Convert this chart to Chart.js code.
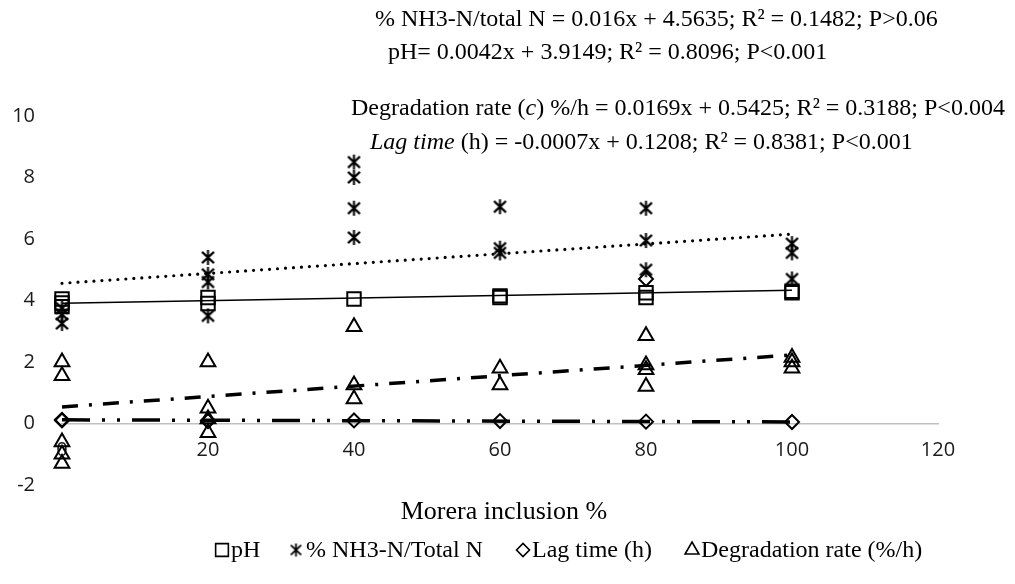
<!DOCTYPE html>
<html><head><meta charset="utf-8">
<script src="https://cdn.jsdelivr.net/npm/chart.js@4.4.1/dist/chart.umd.min.js"></script>
<style>html,body{margin:0;padding:0;background:#fff;}</style>
</head><body>
<canvas id="c" width="1015" height="584"></canvas>
<script>
// ---- data ----
const xTickValues = [0, 20, 40, 60, 80, 100, 120];
const yTickValues = [-2, 0, 2, 4, 6, 8, 10];

const phX = [0, 0, 0, 20, 20, 40, 60, 60, 80, 80, 100, 100];
const phY = [4.05, 3.92, 3.8, 4.1, 3.9, 4.05, 4.15, 4.1, 4.25, 4.1, 4.3, 4.25];

const nh3X = [0, 0, 0, 20, 20, 20, 20, 40, 40, 40, 40, 60, 60, 60, 80, 80, 80, 100, 100, 100];
const nh3Y = [3.75, 3.55, 3.25, 5.4, 4.85, 4.6, 3.5, 8.5, 8.0, 7.0, 6.05, 7.05, 5.7, 5.55, 7.0, 5.95, 5.0, 5.85, 5.55, 4.7];

const lagX = [0, 0, 20, 20, 40, 60, 80, 80, 100];
const lagY = [0.12, 0.1, 0.1, 0.08, 0.1, 0.08, 0.06, 4.7, 0.05];

const degX = [0, 0, 0, 0, 0, 20, 20, 20, 20, 40, 40, 40, 60, 60, 80, 80, 80, 80, 100, 100, 100];
const degY = [2.0, 1.55, -0.6, -1.0, -1.3, 2.0, 0.5, 0.15, -0.3, 3.15, 1.25, 0.8, 1.8, 1.25, 2.85, 1.9, 1.75, 1.2, 2.15, 2.0, 1.8];

// trend line end points (x = 0 and x = 100)
const trendX = [0, 100];
const phTrend = [3.91, 4.33];
const nh3Trend = [4.56, 6.16];
const degTrend = [0.54, 2.23];
const lagTrend = [0.12, 0.05];

const equations = [
  [{t: '% NH3-N/total N = 0.016x + 4.5635; R\u00B2 = 0.1482; P>0.06'}],
  [{t: 'pH= 0.0042x + 3.9149; R\u00B2 = 0.8096; P<0.001'}],
  [{t: 'Degradation rate ('}, {t: 'c', i: true}, {t: ') %/h = 0.0169x + 0.5425; R\u00B2 = 0.3188; P<0.004'}],
  [{t: 'Lag time', i: true}, {t: ' (h) = -0.0007x + 0.1208; R\u00B2 = 0.8381; P<0.001'}]
];
const legendLabels = ['pH', '% NH3-N/Total N', 'Lag time (h)', 'Degradation rate (%/h)'];
const xTitle = 'Morera inclusion %';

// ---- build ----
const pts = (xs, ys) => xs.map((x, i) => ({x: x, y: ys[i]}));

function makeAsterisk(size, lw) {
  const c = document.createElement('canvas');
  c.width = size; c.height = size;
  const g = c.getContext('2d');
  g.strokeStyle = '#000'; g.lineWidth = lw; g.lineCap = 'butt';
  const m = size / 2, r = size / 2 - 1;
  g.beginPath();
  g.moveTo(m, m - r); g.lineTo(m, m + r);
  const dx = r * 0.8, dy = r * 0.75;
  g.moveTo(m - dx, m - dy); g.lineTo(m + dx, m + dy);
  g.moveTo(m + dx, m - dy); g.lineTo(m - dx, m + dy);
  g.stroke();
  return c;
}
const asteriskBig = makeAsterisk(17, 2.1);
const asteriskSmall = makeAsterisk(15, 1.8);

const markerBase = {
  type: 'scatter', showLine: false, clip: false, borderColor: '#000', backgroundColor: 'rgba(0,0,0,0)',
  pointBorderColor: '#000', pointBackgroundColor: 'rgba(0,0,0,0)', pointBorderWidth: 2, pointHoverRadius: 0
};
const trendBase = {
  type: 'line', showLine: true, clip: false, pointRadius: 0, fill: false, borderColor: '#000', tension: 0
};

const legendStyles = [
  {pointStyle: 'rect', radius: 9, borderWidth: 1.6},
  {pointStyle: asteriskSmall, radius: 7, borderWidth: 0},
  {pointStyle: 'rectRot', radius: 6.5, borderWidth: 1.6},
  {pointStyle: 'triangle', radius: 8, borderWidth: 1.6}
];

const overlay = {
  id: 'overlay',
  afterDraw(chart) {
    const ctx = chart.ctx;
    ctx.save();
    ctx.fillStyle = '#000';
    ctx.textBaseline = 'middle';
    // equations
    const eqPos = [[375, 20], [388, 53], [351, 109], [370, 143]];
    equations.forEach((segs, k) => {
      let x = eqPos[k][0];
      const y = eqPos[k][1];
      segs.forEach(s => {
        ctx.font = (s.i ? 'italic ' : '') + '24px "Liberation Serif"';
        ctx.textAlign = 'left';
        ctx.fillText(s.t, x, y);
        x += ctx.measureText(s.t).width;
      });
    });
    // axis title
    ctx.font = '26px "Liberation Serif"';
    ctx.textAlign = 'center';
    ctx.fillText(xTitle, 504, 512);
    // legend
    const lgPos = [[222, 231], [296, 306], [523, 532], [692, 701]];
    const ly = 550;
    ctx.font = '24px "Liberation Serif"';
    legendLabels.forEach((lab, k) => {
      ctx.save();
      ctx.strokeStyle = '#000';
      ctx.fillStyle = 'rgba(0,0,0,0)';
      ctx.lineWidth = legendStyles[k].borderWidth;
      Chart.helpers.drawPoint(ctx, {pointStyle: legendStyles[k].pointStyle, radius: legendStyles[k].radius, borderWidth: legendStyles[k].borderWidth, rotation: 0}, lgPos[k][0], ly);
      ctx.restore();
      ctx.fillStyle = '#000';
      ctx.textAlign = 'left';
      ctx.textBaseline = 'middle';
      ctx.fillText(lab, lgPos[k][1], ly + 1);
    });
    ctx.restore();
  }
};

new Chart(document.getElementById('c'), {
  type: 'scatter',
  data: {
    datasets: [
      Object.assign({}, markerBase, {label: legendLabels[0], data: pts(phX, phY), pointStyle: 'rect', pointRadius: 9.5, order: 1}),
      Object.assign({}, markerBase, {label: legendLabels[1], data: pts(nh3X, nh3Y), pointStyle: asteriskBig, pointRadius: 8, order: 1}),
      Object.assign({}, markerBase, {label: legendLabels[2], data: pts(lagX, lagY), pointStyle: 'rectRot', pointRadius: 7, order: 1}),
      Object.assign({}, markerBase, {label: legendLabels[3], data: pts(degX, degY), pointStyle: 'triangle', pointRadius: 8.5, order: 1}),
      Object.assign({}, trendBase, {label: 'pH trend', data: pts(trendX, phTrend), borderWidth: 1.5, order: 2}),
      Object.assign({}, trendBase, {label: 'NH3 trend', data: pts(trendX, nh3Trend), borderWidth: 3.2, borderDash: [0, 8], borderCapStyle: 'round', order: 2}),
      Object.assign({}, trendBase, {label: 'Deg trend', data: pts(trendX, degTrend), borderWidth: 3.5, borderDash: [16, 11, 3, 11], order: 2}),
      Object.assign({}, trendBase, {label: 'Lag trend', data: pts(trendX, lagTrend), borderWidth: 3.5, borderDash: [28, 12, 3, 12, 3, 12], order: 2})
    ]
  },
  options: {
    responsive: false,
    animation: false,
    events: [],
    layout: {padding: {left: 0, right: 77, top: 116, bottom: 99}},
    plugins: {legend: {display: false}, tooltip: {enabled: false}, title: {display: false}},
    scales: {
      x: {
        type: 'linear', position: {y: 0}, min: 0, max: 120,
        afterBuildTicks: s => { s.ticks = xTickValues.map(v => ({value: v})); },
        grid: {display: false, drawTicks: false},
        border: {display: true, color: '#c0c0c0', width: 1.5},
        ticks: {padding: 15, color: '#1a1a1a', font: {family: '"Open Sans"', size: 20}, maxRotation: 0, autoSkip: false}
      },
      y: {
        type: 'linear', position: 'left', min: -2, max: 10,
        afterBuildTicks: s => { s.ticks = yTickValues.map(v => ({value: v})); },
        afterFit: s => { s.width = 62; },
        grid: {display: false, drawTicks: false},
        border: {display: false},
        ticks: {padding: 27, color: '#1a1a1a', font: {family: '"Open Sans"', size: 20}, autoSkip: false}
      }
    }
  },
  plugins: [overlay]
});
</script>
</body></html>
